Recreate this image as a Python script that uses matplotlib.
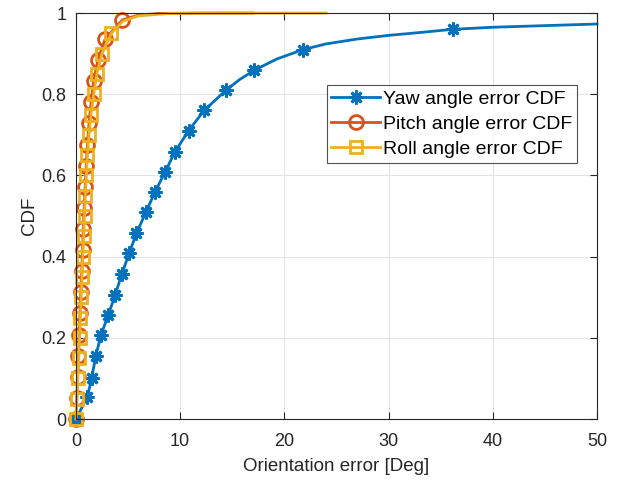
import numpy as np
import matplotlib.pyplot as plt

plt.rcParams['font.family'] = ['Liberation Sans', 'DejaVu Sans']

# yaw error CDF: curve points, markers on the first 20
yaw_x = [0, 1.1, 1.5, 1.9, 2.4, 3.1, 3.75, 4.4, 5.1, 5.8, 6.7, 7.6, 8.56, 9.5,
         10.8, 12.3, 14.4, 17.1, 21.8, 36.2, 15.7, 19.3, 24, 27, 30, 33, 40,
         45, 50]
yaw_y = [0, 0.055, 0.10, 0.155, 0.207, 0.256, 0.305, 0.357, 0.408, 0.457, 0.509,
         0.56, 0.609, 0.658, 0.71, 0.76, 0.81, 0.859, 0.91, 0.96, 0.836, 0.887,
         0.924, 0.936, 0.945, 0.952, 0.965, 0.969, 0.973]

# pitch error CDF
pitch_x = [0, 0.08, 0.15, 0.22, 0.3, 0.38, 0.46, 0.55, 0.63, 0.7, 0.78, 0.88,
           0.98, 1.1, 1.25, 1.45, 1.7, 2.1, 2.8, 4.45, 6, 8, 12, 17]
pitch_y = [0, 0.052, 0.104, 0.156, 0.208, 0.26, 0.312, 0.364, 0.416, 0.468,
           0.52, 0.572, 0.624, 0.676, 0.728, 0.78, 0.832, 0.884, 0.936, 0.983,
           0.995, 0.999, 1.0, 1.0]

# roll error CDF
roll_x = [0, 0.1, 0.18, 0.26, 0.34, 0.42, 0.5, 0.58, 0.66, 0.74, 0.82, 0.9,
          1.0, 1.1, 1.25, 1.45, 1.7, 2.0, 2.5, 3.4, 4.5, 6, 9, 14, 24]
roll_y = [0, 0.05, 0.10, 0.15, 0.20, 0.25, 0.30, 0.35, 0.40, 0.45, 0.50, 0.55,
          0.60, 0.65, 0.70, 0.75, 0.80, 0.85, 0.90, 0.95, 0.98, 0.993, 0.999,
          1.0, 1.0]

n_markers = 20


def sorted_curve(x, y):
    order = np.argsort(x, kind='stable')
    return np.asarray(x)[order], np.asarray(y)[order], order


fig = plt.figure(figsize=(6.29, 4.83), dpi=100)
ax = fig.add_axes([0.1208, 0.1325, 0.8282, 0.8405])

series = [
    (yaw_x, yaw_y, '#0072BD', (8, 2, 0), 10, 'Yaw angle error CDF'),
    (pitch_x, pitch_y, '#D95319', 'o', 10, 'Pitch angle error CDF'),
    (roll_x, roll_y, '#EDB120', 's', 8, 'Roll angle error CDF'),
]
for x, y, c, m, ms, lab in series:
    xs, ys, order = sorted_curve(x, y)
    marks = [int(np.where(order == i)[0][0]) for i in range(n_markers)]
    ax.plot(xs, ys, color=c, lw=2, marker=m, ms=ms, mfc='none', mec=c,
            mew=2, markevery=marks, label=lab, clip_on=False)

ax.set_xlim(0, 50)
ax.set_ylim(0, 1)
ax.set_xticks(np.arange(0, 51, 10))
ax.set_yticks(np.arange(0, 1.01, 0.2))
ax.set_yticklabels(['0', '0.2', '0.4', '0.6', '0.8', '1'])
ax.grid(True, color='#E3E3E3', lw=0.8)
ax.set_axisbelow(True)
for s in ax.spines.values():
    s.set_color('#262626')
    s.set_linewidth(0.8)
ax.tick_params(direction='in', length=5, colors='#262626', labelsize=13,
               top=True, right=True)
ax.tick_params(axis='x', pad=10)
ax.tick_params(axis='y', pad=7)
ax.set_xlabel('Orientation error [Deg]', fontsize=13.5, color='#262626',
              labelpad=6)
ax.set_ylabel('CDF', fontsize=13.5, color='#262626', labelpad=2)

leg = ax.legend(loc='upper right', bbox_to_anchor=(0.962, 0.822), fontsize=14,
                frameon=True, fancybox=False, edgecolor='#262626',
                borderpad=0.25, labelspacing=0.38, handlelength=2.5,
                handletextpad=0.15, borderaxespad=0)
leg.get_frame().set_linewidth(0.8)

fig.savefig('out.png', dpi=100)
